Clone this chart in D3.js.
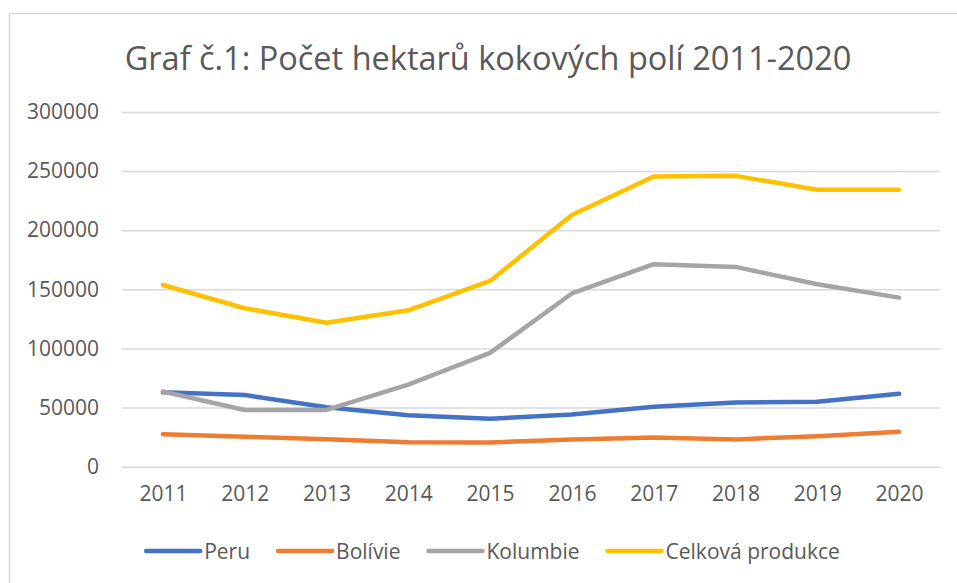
<!DOCTYPE html>
<html>
<head>
<meta charset="utf-8">
<script src="https://cdn.jsdelivr.net/npm/d3@7"></script>
<style>
  body { margin: 0; background: #fff; }
  svg text { font-family: "Open Sans", "Noto Sans", sans-serif; fill: #595959; }
</style>
</head>
<body>
<div id="chart"></div>
<script>
// data
const years = ['2011', '2012', '2013', '2014', '2015', '2016', '2017', '2018', '2019', '2020'];
const peru = [62900, 60600, 50300, 43500, 40600, 44200, 50700, 54400, 55000, 61700];
const bolivie = [27500, 25400, 23300, 20600, 20500, 23100, 24800, 23100, 25800, 29500];
const kolumbie = [63600, 48000, 48000, 69500, 96300, 146500, 171300, 169000, 154300, 143000];
const celkem = [153700, 134000, 121800, 132300, 157100, 212900, 245500, 246000, 234300, 234300];
const yTicks = [0, 50000, 100000, 150000, 200000, 250000, 300000];

const seriesNames = ['Peru', 'Bolívie', 'Kolumbie', 'Celková produkce'];
const seriesValues = [peru, bolivie, kolumbie, celkem];
const colors = ['#4472C4', '#ED7D31', '#A5A5A5', '#FFC000'];

const width = 957, height = 583;
const plot = { left: 122, right: 940, top: 112, bottom: 466.7 };
const labelSize = '21px';

const svg = d3.select('#chart').append('svg')
    .attr('width', width).attr('height', height);

// rámeček grafu
svg.append('rect')
    .attr('x', 9.5).attr('y', 13.5)
    .attr('width', 980).attr('height', 600)
    .attr('fill', '#fff')
    .attr('stroke', '#d9d9d9').attr('stroke-width', 1.5);

// titulek
svg.append('text')
    .attr('x', 488).attr('y', 70)
    .attr('text-anchor', 'middle')
    .style('font-size', '32.5px')
    .text('Graf č.1: Počet hektarů kokových polí 2011-2020');

const x = d3.scalePoint().domain(years).range([plot.left, plot.right]).padding(0.5);
const y = d3.scaleLinear().domain([0, 300000]).range([plot.bottom, plot.top]);

// mřížka + osa y
const yAxis = d3.axisLeft(y).tickValues(yTicks).tickFormat(d3.format('d'))
    .tickSize(-(plot.right - plot.left)).tickPadding(23);
svg.append('g')
    .attr('transform', `translate(${plot.left},0)`)
    .call(yAxis)
    .call(g => g.select('.domain').remove())
    .call(g => g.selectAll('line').attr('stroke', '#d9d9d9').attr('stroke-width', 1.5))
    .call(g => g.selectAll('text').style('font-size', labelSize).attr('fill', '#595959'));

// osa x
const xAxis = d3.axisBottom(x).tickSize(0).tickPadding(19);
svg.append('g')
    .attr('transform', `translate(0,${plot.bottom})`)
    .call(xAxis)
    .call(g => g.select('.domain').remove())
    .call(g => g.selectAll('text').style('font-size', labelSize).attr('fill', '#595959'));

// čáry
const line = d3.line().x((d, i) => x(years[i])).y(d => y(d));
svg.append('g').selectAll('path')
    .data(seriesValues)
    .join('path')
    .attr('d', line)
    .attr('fill', 'none')
    .attr('stroke', (d, i) => colors[i])
    .attr('stroke-width', 4.5)
    .attr('stroke-linejoin', 'round')
    .attr('stroke-linecap', 'round');

// legenda
const gap = 28;
const legend = svg.append('g');
const items = legend.selectAll('g').data(seriesNames).join('g');
items.append('line')
    .attr('x1', 0).attr('x2', 54).attr('y1', 0).attr('y2', 0)
    .attr('stroke', (d, i) => colors[i])
    .attr('stroke-width', 4.5)
    .attr('stroke-linecap', 'round');
items.append('text')
    .attr('x', 58).attr('y', 7.5)
    .style('font-size', labelSize)
    .text(d => d);
let pos = 0;
items.each(function () {
    const w = this.getBBox().width;
    d3.select(this).attr('data-x', pos);
    pos += w + gap;
});
const total = pos - gap;
const start = 493 - total / 2;
items.attr('transform', function () {
    return `translate(${start + (+this.getAttribute('data-x'))},551)`;
});
</script>
</body>
</html>
